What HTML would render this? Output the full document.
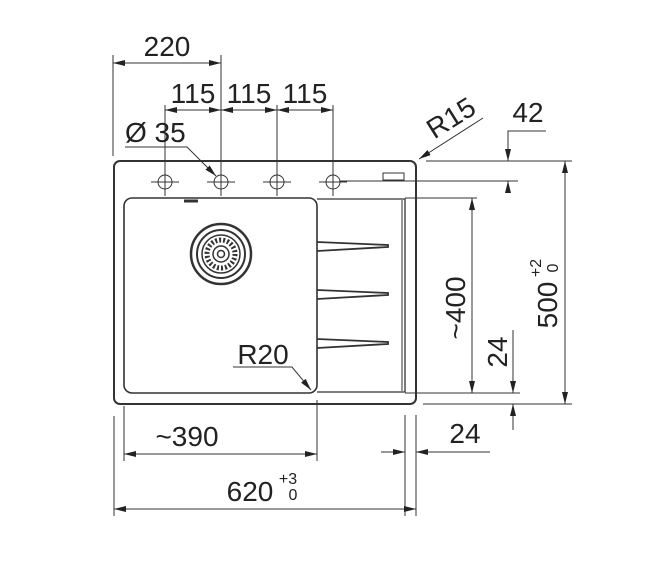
<!DOCTYPE html>
<html><head><style>html,body{margin:0;padding:0;background:#fff}svg{display:block}text{font-family:"Liberation Sans",sans-serif;fill:#222}</style></head><body>
<svg width="655" height="568" viewBox="0 0 655 568" xmlns="http://www.w3.org/2000/svg">
<defs>
<marker id="a" viewBox="0 0 12 6" refX="12" refY="3" markerWidth="12" markerHeight="6" markerUnits="userSpaceOnUse" orient="auto-start-reverse"><path d="M0,0 L12,3 L0,6z" fill="#222"/></marker>
</defs>
<g stroke="#333" fill="none" stroke-width="1">
<rect x="114" y="161" width="302" height="243" rx="6" stroke-width="2"/>
<rect x="124" y="198" width="193" height="195" rx="8" stroke-width="1.6"/>
<path d="M317 199 H405 V392 H317" stroke-width="1.3"/>
<line x1="402" y1="200" x2="402" y2="391"/>
<path d="M317 242 L388 245 L388 247 L317 251" stroke-width="1.8"/>
<path d="M317 290 L388 293 L388 295 L317 299" stroke-width="1.8"/>
<path d="M317 339 L388 342 L388 344 L317 348" stroke-width="1.8"/>
<path d="M184 201 H198" stroke-width="3"/>
<circle cx="221" cy="254" r="30" stroke-width="2.5"/>
<circle cx="221" cy="254" r="24" stroke-width="2"/>
<circle cx="221" cy="254" r="19" stroke-width="1.5"/>
<circle cx="221" cy="254" r="14" stroke-width="5" stroke-dasharray="2 2"/>
<circle cx="221" cy="254" r="8" stroke-width="1.5"/>
<circle cx="221" cy="254" r="3.5" stroke-width="1.5"/>
<g stroke-width="1">
<circle cx="165" cy="182" r="7"/><path d="M151 182H179M165 170V196"/>
<circle cx="221" cy="182" r="7"/><path d="M207 182H235M221 170V196"/>
<circle cx="277" cy="182" r="7"/><path d="M263 182H291M277 170V196"/>
<circle cx="333" cy="182" r="7"/><path d="M319 182H347M333 170V196"/>
</g>
<rect x="383" y="173" width="21" height="7"/>
<line x1="340" y1="181" x2="518" y2="181"/>
<path d="M113 55V156M221 55V170M165 105V175M277 105V175M333 105V175"/>
<line x1="113" y1="63" x2="221" y2="63" marker-start="url(#a)" marker-end="url(#a)"/>
<line x1="165" y1="110" x2="221" y2="110" marker-start="url(#a)" marker-end="url(#a)"/>
<line x1="221" y1="110" x2="277" y2="110" marker-start="url(#a)" marker-end="url(#a)"/>
<line x1="277" y1="110" x2="333" y2="110" marker-start="url(#a)" marker-end="url(#a)"/>
<path d="M125 147H187L216 176" marker-end="url(#a)"/>
<path d="M233 367H292L311 390" marker-end="url(#a)"/>
<line x1="483" y1="118" x2="419" y2="159" marker-end="url(#a)"/>
<path d="M426 161H572M405 198H477M405 393H520M423 404H572"/>
<path d="M546 131H508V161" marker-end="url(#a)"/>
<line x1="508" y1="193" x2="508" y2="181" marker-end="url(#a)"/>
<line x1="472" y1="198" x2="472" y2="393" marker-start="url(#a)" marker-end="url(#a)"/>
<line x1="513" y1="330" x2="513" y2="393" marker-end="url(#a)"/>
<line x1="513" y1="430" x2="513" y2="404" marker-end="url(#a)"/>
<line x1="565" y1="161" x2="565" y2="404" marker-start="url(#a)" marker-end="url(#a)"/>
<path d="M114 416V516M124 406V461M317 400V461M405 415V516M416 415V516"/>
<line x1="124" y1="454" x2="317" y2="454" marker-start="url(#a)" marker-end="url(#a)"/>
<line x1="114" y1="509" x2="416" y2="509" marker-start="url(#a)" marker-end="url(#a)"/>
<line x1="381" y1="452" x2="405" y2="452" marker-end="url(#a)"/>
<path d="M490 452H416" marker-end="url(#a)"/>
</g>
<g font-size="28">
<text x="167" y="56" text-anchor="middle">220</text>
<text x="193" y="103" text-anchor="middle">115</text>
<text x="249" y="103" text-anchor="middle">115</text>
<text x="305" y="103" text-anchor="middle">115</text>
<text x="125" y="142">Ø 35</text>
<text x="528" y="122" text-anchor="middle">42</text>
<text transform="translate(456,126) rotate(-32)" text-anchor="middle">R15</text>
<text transform="translate(465,308) rotate(-90)" text-anchor="middle">~400</text>
<text transform="translate(507,352) rotate(-90)" text-anchor="middle">24</text>
<text transform="translate(557,305) rotate(-90)" text-anchor="middle">500</text>
<text x="263" y="364" text-anchor="middle">R20</text>
<text x="187" y="446" text-anchor="middle">~390</text>
<text x="465" y="443" text-anchor="middle">24</text>
<text x="250" y="501" text-anchor="middle">620</text>
</g>
<g font-size="16">
<text x="288" y="484" text-anchor="middle">+3</text>
<text x="293" y="500" text-anchor="middle">0</text>
<text transform="translate(541,268) rotate(-90)" text-anchor="middle">+2</text>
<text transform="translate(558,268) rotate(-90)" text-anchor="middle">0</text>
</g>
</svg>
</body></html>
